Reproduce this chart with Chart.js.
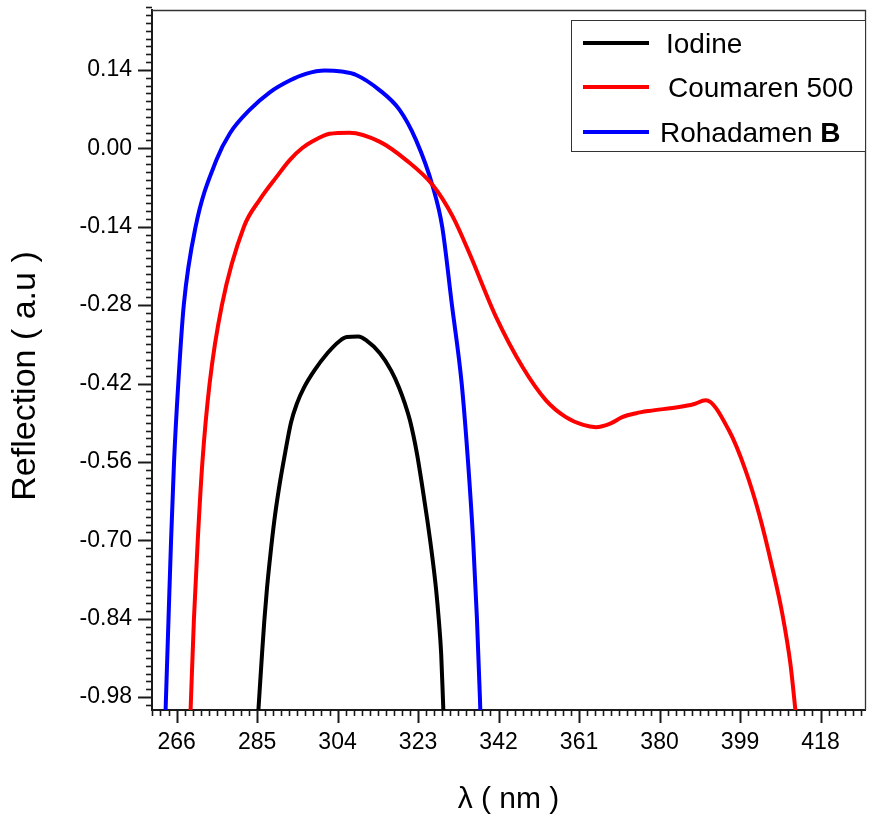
<!DOCTYPE html>
<html>
<head>
<meta charset="utf-8">
<script src="https://cdn.jsdelivr.net/npm/chart.js@4.4.1/dist/chart.umd.min.js"></script>
<style>
  html, body { margin: 0; padding: 0; background: #fff; }
  #wrap { width: 873px; height: 826px; }
</style>
</head>
<body>
<div id="wrap"><canvas id="refl-chart"></canvas></div>
<script>
const xTicks = [266, 285, 304, 323, 342, 361, 380, 399, 418];
const yTicks = [0.14, 0.0, -0.14, -0.28, -0.42, -0.56, -0.7, -0.84, -0.98];

const seriesNames = ["Iodine", "Coumaren 500", "Rohadamen B"];

// lambda (nm) / reflection (a.u)
const iodineX = [285.3, 286.17, 286.71, 287.35, 288.17, 289.07, 290.2, 291.6, 293.0, 294.4, 296.1, 298.5, 301.6, 304.5, 306.2, 308.9, 310.8, 314.0, 316.66, 318.5, 319.9, 321.1, 322.74, 324.04, 325.21, 326.27, 327.22, 327.92, 328.46, 328.98];
const iodineY = [-1.005, -0.903, -0.844, -0.785, -0.724, -0.665, -0.606, -0.545, -0.490, -0.456, -0.427, -0.397, -0.366, -0.344, -0.337, -0.336, -0.343, -0.366, -0.397, -0.427, -0.456, -0.486, -0.545, -0.606, -0.665, -0.724, -0.785, -0.844, -0.903, -1.005];

const coumarenX = [269.3, 270.1, 271.0, 272.1, 273.8, 276.7, 281.9, 285.6, 289.6, 292.7, 295.6, 298.0, 302.1, 306.8, 313.9, 320.2, 326.5, 331.2, 335.1, 341.4, 347.7, 353.2, 357.9, 362.0, 365.0, 368.5, 371.2, 374.5, 377.5, 384.6, 388.0, 390.9, 396.4, 400.3, 403.5, 406.6, 409.0, 410.9, 412.1];
const coumarenY = [-1.005, -0.84, -0.70, -0.56, -0.42, -0.28, -0.14, -0.092, -0.051, -0.021, 0.0, 0.012, 0.026, 0.028, 0.012, -0.021, -0.066, -0.122, -0.187, -0.301, -0.391, -0.450, -0.480, -0.494, -0.498, -0.491, -0.480, -0.473, -0.469, -0.462, -0.457, -0.450, -0.504, -0.575, -0.653, -0.748, -0.832, -0.921, -1.005];

const rohadamenX = [263.4, 264.1, 264.7, 265.4, 266.4, 267.7, 270.5, 275.4, 278.6, 283.3, 288.0, 292.7, 296.5, 301.0, 305.0, 308.4, 313.9, 318.6, 322.5, 326.5, 328.7, 331.0, 333.3, 334.8, 336.0, 336.9, 337.6, 337.7];
const rohadamenY = [-1.005, -0.84, -0.70, -0.56, -0.42, -0.28, -0.14, -0.021, 0.027, 0.069, 0.100, 0.121, 0.133, 0.139, 0.137, 0.131, 0.104, 0.069, 0.015, -0.069, -0.14, -0.28, -0.42, -0.56, -0.70, -0.84, -0.98, -1.005];

const colors = ["#000000", "#ff0000", "#0000ff"];

const FONT = "'Liberation Sans', Arial, sans-serif";

function toPoints(xs, ys) {
  return xs.map((x, i) => ({ x: x, y: ys[i] }));
}

// minor ticks, major ticks, top/right frame, y title and the legend box
const axisDecor = {
  id: "axisDecor",
  afterDraw(chart) {
    const { ctx, chartArea: a, scales } = chart;
    const sx = scales.x;
    const sy = scales.y;
    ctx.save();
    ctx.strokeStyle = "#1a1a1a";

    for (let i = -3; i < 100; i++) {
      const v = 266 + i * 1.9;
      if (v > sx.max) break;
      const px = Math.round(sx.getPixelForValue(v)) + 0.5;
      const len = i % 10 === 0 ? 13 : 6;
      ctx.lineWidth = i % 10 === 0 ? 2 : 1.6;
      ctx.beginPath();
      ctx.moveTo(px, a.bottom);
      ctx.lineTo(px, a.bottom + len);
      ctx.stroke();
    }
    for (let i = -8; i < 100; i++) {
      const v = 0.14 - i * 0.014;
      if (v < sy.min) break;
      const py = Math.round(sy.getPixelForValue(v)) + 0.5;
      const len = i % 10 === 0 ? 14 : 6;
      ctx.lineWidth = i % 10 === 0 ? 2 : 1.6;
      ctx.beginPath();
      ctx.moveTo(a.left, py);
      ctx.lineTo(a.left - len, py);
      ctx.stroke();
    }

    // top & right frame
    ctx.lineWidth = 1.3;
    ctx.strokeStyle = "#333";
    ctx.beginPath();
    ctx.moveTo(a.left, a.top + 0.5);
    ctx.lineTo(a.right + 0.5, a.top + 0.5);
    ctx.lineTo(a.right + 0.5, a.bottom);
    ctx.stroke();

    // y axis title (sits a bit below the axis centre in the original)
    ctx.save();
    ctx.translate(26, 376);
    ctx.rotate(-Math.PI / 2);
    ctx.font = "34px " + FONT;
    ctx.fillStyle = "#000";
    ctx.textAlign = "center";
    ctx.textBaseline = "middle";
    ctx.fillText("Reflection ( a.u )", 0, 0);
    ctx.restore();

    // legend
    ctx.lineWidth = 1;
    ctx.strokeStyle = "#333";
    ctx.fillStyle = "#fff";
    ctx.fillRect(571.5, 20.5, 294, 131);
    ctx.strokeRect(571.5, 20.5, 294, 131);
    const rows = [43, 87, 132];
    const textX = [666, 668, 660];
    ctx.fillStyle = "#000";
    ctx.textBaseline = "middle";
    ctx.textAlign = "left";
    rows.forEach((ry, i) => {
      ctx.strokeStyle = colors[i];
      ctx.lineWidth = 4;
      ctx.beginPath();
      ctx.moveTo(583, ry);
      ctx.lineTo(649, ry);
      ctx.stroke();
      ctx.font = "28px " + FONT;
      if (i === 2) {
        const head = "Rohadamen ";
        ctx.fillText(head, textX[i], ry + 2);
        const w = ctx.measureText(head).width;
        ctx.font = "bold 28px " + FONT;
        ctx.fillText("B", textX[i] + w, ry + 2);
      } else {
        ctx.fillText(seriesNames[i], textX[i], ry + 2);
      }
    });
    ctx.restore();
  },
};

const ctx = document.getElementById("refl-chart").getContext("2d");

new Chart(ctx, {
  type: "line",
  data: {
    datasets: [
      { label: seriesNames[0], data: toPoints(iodineX, iodineY), borderColor: colors[0] },
      { label: seriesNames[1], data: toPoints(coumarenX, coumarenY), borderColor: colors[1] },
      { label: seriesNames[2], data: toPoints(rohadamenX, rohadamenY), borderColor: colors[2] },
    ],
  },
  options: {
    responsive: true,
    maintainAspectRatio: false,
    animation: false,
    layout: { padding: { top: 10, right: 8, left: 0, bottom: 0 } },
    elements: {
      point: { radius: 0 },
      line: { borderWidth: 4, cubicInterpolationMode: "monotone", fill: false },
    },
    datasets: { line: { clip: 0 } },
    plugins: {
      legend: { display: false },
      tooltip: { enabled: false },
    },
    scales: {
      x: {
        type: "linear",
        min: 260.2,
        max: 428.5,
        afterBuildTicks: (scale) => {
          scale.ticks = xTicks.map((v) => ({ value: v }));
        },
        afterFit: (scale) => {
          scale.height = 116;
          scale.paddingLeft = 0;
          scale.paddingRight = 0;
        },
        ticks: {
          color: "#000",
          padding: 19,
          maxRotation: 0,
          font: { family: FONT, size: 23 },
          callback: (value) => String(value),
        },
        grid: { display: false, drawTicks: false },
        border: { display: true, color: "#1a1a1a", width: 2 },
        title: {
          display: true,
          text: "λ ( nm )",
          color: "#000",
          padding: 8,
          font: { family: FONT, size: 30 },
        },
      },
      y: {
        type: "linear",
        min: -1.003,
        max: 0.247,
        afterBuildTicks: (scale) => {
          scale.ticks = yTicks.map((v) => ({ value: v }));
        },
        afterFit: (scale) => {
          scale.width = 152;
          scale.paddingTop = 0;
          scale.paddingBottom = 0;
        },
        ticks: {
          color: "#000",
          padding: 20,
          font: { family: FONT, size: 23 },
          callback: (value) => value.toFixed(2),
        },
        grid: { display: false, drawTicks: false },
        border: { display: true, color: "#1a1a1a", width: 2 },
        title: { display: false },
      },
    },
  },
  plugins: [axisDecor],
});
</script>
</body>
</html>
